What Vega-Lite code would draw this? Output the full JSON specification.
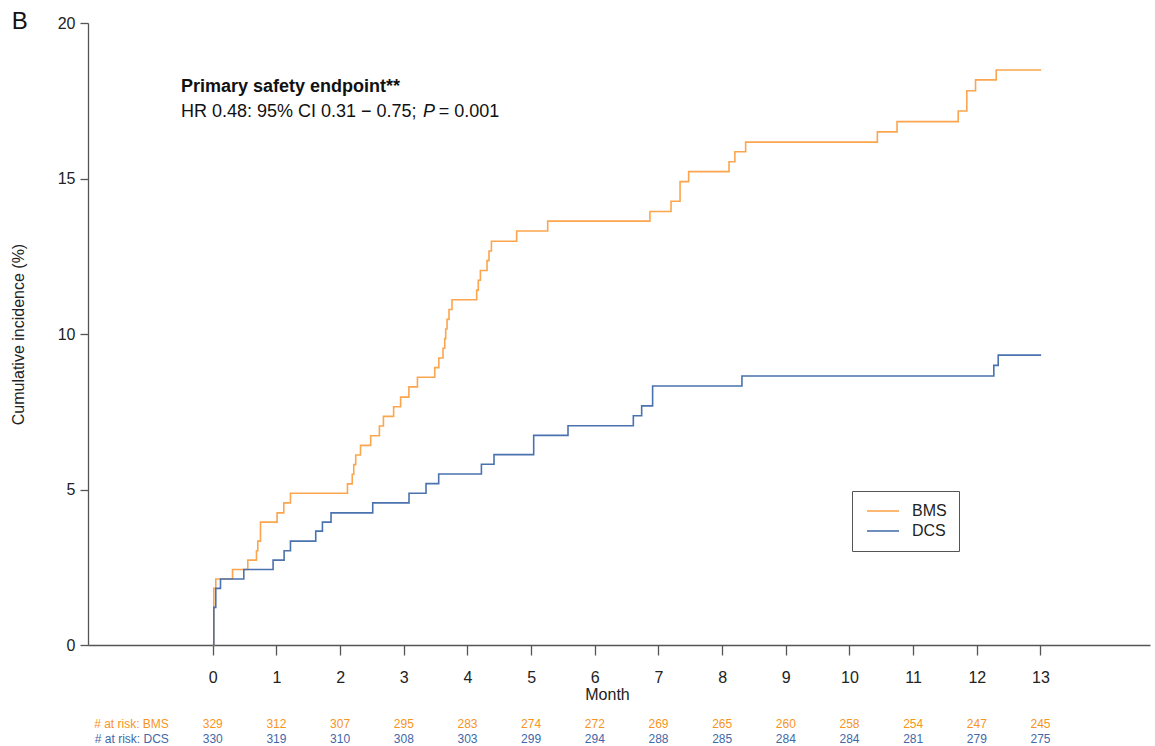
{
  "$schema": "https://vega.github.io/schema/vega-lite/v6.json",
  "width": 1062,
  "height": 622,
  "autosize": {"type": "none"},
  "padding": {"left": 88, "top": 23, "right": 5, "bottom": 101},
  "background": "white",
  "config": {
    "font": "Liberation Sans",
    "view": {"stroke": null},
    "axis": {
      "grid": false,
      "domainColor": "#555555",
      "tickColor": "#555555",
      "domainWidth": 1.3,
      "tickWidth": 1.3,
      "labelColor": "#222222",
      "titleColor": "#222222",
      "labelFont": "Liberation Sans",
      "titleFont": "Liberation Sans",
      "titleFontWeight": "normal"
    }
  },
  "datasets": {
    "curves": [
      {"group": "BMS", "month": 0, "value": 0},
      {"group": "BMS", "month": 0.016, "value": 1.82},
      {"group": "BMS", "month": 0.047, "value": 2.12},
      {"group": "BMS", "month": 0.31, "value": 2.43},
      {"group": "BMS", "month": 0.55, "value": 2.73},
      {"group": "BMS", "month": 0.686, "value": 3.03},
      {"group": "BMS", "month": 0.707, "value": 3.34},
      {"group": "BMS", "month": 0.749, "value": 3.95},
      {"group": "BMS", "month": 1.01, "value": 4.25},
      {"group": "BMS", "month": 1.115, "value": 4.57},
      {"group": "BMS", "month": 1.22, "value": 4.88},
      {"group": "BMS", "month": 2.115, "value": 5.18},
      {"group": "BMS", "month": 2.19, "value": 5.49},
      {"group": "BMS", "month": 2.214, "value": 5.8},
      {"group": "BMS", "month": 2.245, "value": 6.11},
      {"group": "BMS", "month": 2.32, "value": 6.42},
      {"group": "BMS", "month": 2.48, "value": 6.73},
      {"group": "BMS", "month": 2.617, "value": 7.04},
      {"group": "BMS", "month": 2.68, "value": 7.35},
      {"group": "BMS", "month": 2.84, "value": 7.66},
      {"group": "BMS", "month": 2.95, "value": 7.97},
      {"group": "BMS", "month": 3.08, "value": 8.3},
      {"group": "BMS", "month": 3.214, "value": 8.61},
      {"group": "BMS", "month": 3.486, "value": 8.92},
      {"group": "BMS", "month": 3.55, "value": 9.23},
      {"group": "BMS", "month": 3.616, "value": 9.54},
      {"group": "BMS", "month": 3.643, "value": 9.85},
      {"group": "BMS", "month": 3.658, "value": 10.16},
      {"group": "BMS", "month": 3.679, "value": 10.47},
      {"group": "BMS", "month": 3.71, "value": 10.79},
      {"group": "BMS", "month": 3.757, "value": 11.1},
      {"group": "BMS", "month": 4.145, "value": 11.41},
      {"group": "BMS", "month": 4.17, "value": 11.73},
      {"group": "BMS", "month": 4.203, "value": 12.04},
      {"group": "BMS", "month": 4.307, "value": 12.36},
      {"group": "BMS", "month": 4.338, "value": 12.67},
      {"group": "BMS", "month": 4.376, "value": 12.98},
      {"group": "BMS", "month": 4.773, "value": 13.31},
      {"group": "BMS", "month": 5.26, "value": 13.63},
      {"group": "BMS", "month": 6.866, "value": 13.94},
      {"group": "BMS", "month": 7.197, "value": 14.27},
      {"group": "BMS", "month": 7.339, "value": 14.9},
      {"group": "BMS", "month": 7.474, "value": 15.22},
      {"group": "BMS", "month": 8.108, "value": 15.54},
      {"group": "BMS", "month": 8.2, "value": 15.86},
      {"group": "BMS", "month": 8.369, "value": 16.17},
      {"group": "BMS", "month": 10.438, "value": 16.5},
      {"group": "BMS", "month": 10.747, "value": 16.83},
      {"group": "BMS", "month": 11.708, "value": 17.17},
      {"group": "BMS", "month": 11.843, "value": 17.82},
      {"group": "BMS", "month": 11.98, "value": 18.17},
      {"group": "BMS", "month": 12.305, "value": 18.49},
      {"group": "BMS", "month": 13.01, "value": 18.49},
      {"group": "DCS", "month": 0, "value": 0},
      {"group": "DCS", "month": 0.016, "value": 1.21},
      {"group": "DCS", "month": 0.047, "value": 1.82},
      {"group": "DCS", "month": 0.121, "value": 2.12},
      {"group": "DCS", "month": 0.487, "value": 2.43},
      {"group": "DCS", "month": 0.947, "value": 2.73},
      {"group": "DCS", "month": 1.12, "value": 3.03},
      {"group": "DCS", "month": 1.22, "value": 3.34},
      {"group": "DCS", "month": 1.617, "value": 3.66},
      {"group": "DCS", "month": 1.722, "value": 3.95},
      {"group": "DCS", "month": 1.857, "value": 4.25},
      {"group": "DCS", "month": 2.512, "value": 4.57},
      {"group": "DCS", "month": 3.082, "value": 4.88},
      {"group": "DCS", "month": 3.349, "value": 5.19},
      {"group": "DCS", "month": 3.548, "value": 5.5},
      {"group": "DCS", "month": 4.219, "value": 5.81},
      {"group": "DCS", "month": 4.417, "value": 6.12},
      {"group": "DCS", "month": 5.04, "value": 6.74},
      {"group": "DCS", "month": 5.579, "value": 7.05},
      {"group": "DCS", "month": 6.605, "value": 7.37},
      {"group": "DCS", "month": 6.736, "value": 7.69},
      {"group": "DCS", "month": 6.908, "value": 8.33},
      {"group": "DCS", "month": 8.311, "value": 8.65},
      {"group": "DCS", "month": 12.267, "value": 8.99},
      {"group": "DCS", "month": 12.336, "value": 9.32},
      {"group": "DCS", "month": 13.01, "value": 9.32}
    ],
    "risk": [
      {"group": "BMS", "month": 0, "n": 329},
      {"group": "BMS", "month": 1, "n": 312},
      {"group": "BMS", "month": 2, "n": 307},
      {"group": "BMS", "month": 3, "n": 295},
      {"group": "BMS", "month": 4, "n": 283},
      {"group": "BMS", "month": 5, "n": 274},
      {"group": "BMS", "month": 6, "n": 272},
      {"group": "BMS", "month": 7, "n": 269},
      {"group": "BMS", "month": 8, "n": 265},
      {"group": "BMS", "month": 9, "n": 260},
      {"group": "BMS", "month": 10, "n": 258},
      {"group": "BMS", "month": 11, "n": 254},
      {"group": "BMS", "month": 12, "n": 247},
      {"group": "BMS", "month": 13, "n": 245},
      {"group": "DCS", "month": 0, "n": 330},
      {"group": "DCS", "month": 1, "n": 319},
      {"group": "DCS", "month": 2, "n": 310},
      {"group": "DCS", "month": 3, "n": 308},
      {"group": "DCS", "month": 4, "n": 303},
      {"group": "DCS", "month": 5, "n": 299},
      {"group": "DCS", "month": 6, "n": 294},
      {"group": "DCS", "month": 7, "n": 288},
      {"group": "DCS", "month": 8, "n": 285},
      {"group": "DCS", "month": 9, "n": 284},
      {"group": "DCS", "month": 10, "n": 284},
      {"group": "DCS", "month": 11, "n": 281},
      {"group": "DCS", "month": 12, "n": 279},
      {"group": "DCS", "month": 13, "n": 275}
    ]
  },
  "layer": [
    {
      "data": {"name": "curves"},
      "mark": {"type": "line", "interpolate": "step-after", "strokeWidth": 1.6},
      "encoding": {
        "x": {
          "field": "month",
          "type": "quantitative",
          "scale": {"domain": [-1.96, 14.72], "nice": false, "zero": false},
          "axis": {
            "values": [0, 1, 2, 3, 4, 5, 6, 7, 8, 9, 10, 11, 12, 13],
            "format": "d",
            "title": "Month",
            "tickSize": 10,
            "labelPadding": 14,
            "labelFontSize": 16,
            "titleFontSize": 16,
            "titleX": 519,
            "titleY": 54,
            "titleBaseline": "alphabetic"
          }
        },
        "y": {
          "field": "value",
          "type": "quantitative",
          "scale": {"domain": [0, 20], "nice": false},
          "axis": {
            "values": [0, 5, 10, 15, 20],
            "title": "Cumulative incidence (%)",
            "tickSize": 8,
            "labelPadding": 5,
            "labelFontSize": 16,
            "titleFontSize": 16,
            "titleX": -70,
            "titleBaseline": "middle"
          }
        },
        "color": {
          "field": "group",
          "type": "nominal",
          "scale": {"domain": ["BMS", "DCS"], "range": ["#FBA54E", "#4A72AE"]},
          "legend": {
            "orient": "none",
            "legendX": 764,
            "legendY": 468,
            "title": null,
            "symbolType": "M-1,0H5.4",
            "symbolSize": 100,
            "symbolStrokeWidth": 1.6,
            "symbolFillColor": "transparent",
            "labelFontSize": 16,
            "labelColor": "#222222",
            "labelOffset": 32,
            "strokeColor": "#555555",
            "fillColor": "white",
            "padding": 12,
            "rowPadding": 4
          }
        }
      }
    },
    {
      "data": {"name": "risk"},
      "transform": [{"filter": "datum.group === 'BMS'"}],
      "mark": {"type": "text", "fontSize": 12, "color": "#F7941D", "align": "center", "baseline": "middle"},
      "encoding": {
        "x": {"field": "month", "type": "quantitative"},
        "y": {"datum": -2.54, "type": "quantitative"},
        "text": {"field": "n", "type": "nominal"}
      }
    },
    {
      "data": {"name": "risk"},
      "transform": [{"filter": "datum.group === 'DCS'"}],
      "mark": {"type": "text", "fontSize": 12, "color": "#3F68A8", "align": "center", "baseline": "middle"},
      "encoding": {
        "x": {"field": "month", "type": "quantitative"},
        "y": {"datum": -3.01, "type": "quantitative"},
        "text": {"field": "n", "type": "nominal"}
      }
    },
    {
      "data": {"values": [{"label": "# at risk: BMS"}]},
      "mark": {"type": "text", "fontSize": 12, "color": "#F7941D", "align": "right", "baseline": "middle"},
      "encoding": {
        "x": {"datum": -0.69, "type": "quantitative"},
        "y": {"datum": -2.54, "type": "quantitative"},
        "text": {"field": "label", "type": "nominal"}
      }
    },
    {
      "data": {"values": [{"label": "# at risk: DCS"}]},
      "mark": {"type": "text", "fontSize": 12, "color": "#3F68A8", "align": "right", "baseline": "middle"},
      "encoding": {
        "x": {"datum": -0.69, "type": "quantitative"},
        "y": {"datum": -3.01, "type": "quantitative"},
        "text": {"field": "label", "type": "nominal"}
      }
    },
    {
      "data": {"values": [{"label": "Primary safety endpoint**"}]},
      "mark": {"type": "text", "fontSize": 18, "fontWeight": "bold", "color": "#111111", "align": "left", "baseline": "middle"},
      "encoding": {
        "x": {"datum": -0.5, "type": "quantitative"},
        "y": {"datum": 17.94, "type": "quantitative"},
        "text": {"field": "label", "type": "nominal"}
      }
    },
    {
      "data": {"values": [{"label": "HR 0.48: 95% CI 0.31 − 0.75;"}]},
      "mark": {"type": "text", "fontSize": 18, "color": "#111111", "align": "left", "baseline": "middle"},
      "encoding": {
        "x": {"datum": -0.5, "type": "quantitative"},
        "y": {"datum": 17.14, "type": "quantitative"},
        "text": {"field": "label", "type": "nominal"}
      }
    },
    {
      "data": {"values": [{"label": "P"}]},
      "mark": {"type": "text", "fontSize": 18, "fontStyle": "italic", "color": "#111111", "align": "left", "baseline": "middle"},
      "encoding": {
        "x": {"datum": 3.3, "type": "quantitative"},
        "y": {"datum": 17.14, "type": "quantitative"},
        "text": {"field": "label", "type": "nominal"}
      }
    },
    {
      "data": {"values": [{"label": "= 0.001"}]},
      "mark": {"type": "text", "fontSize": 18, "color": "#111111", "align": "left", "baseline": "middle"},
      "encoding": {
        "x": {"datum": 3.55, "type": "quantitative"},
        "y": {"datum": 17.14, "type": "quantitative"},
        "text": {"field": "label", "type": "nominal"}
      }
    },
    {
      "data": {"values": [{"label": "B"}]},
      "mark": {"type": "text", "fontSize": 24, "color": "#111111", "align": "left", "baseline": "middle"},
      "encoding": {
        "x": {"datum": -3.156, "type": "quantitative"},
        "y": {"datum": 20.03, "type": "quantitative"},
        "text": {"field": "label", "type": "nominal"}
      }
    }
  ]
}
